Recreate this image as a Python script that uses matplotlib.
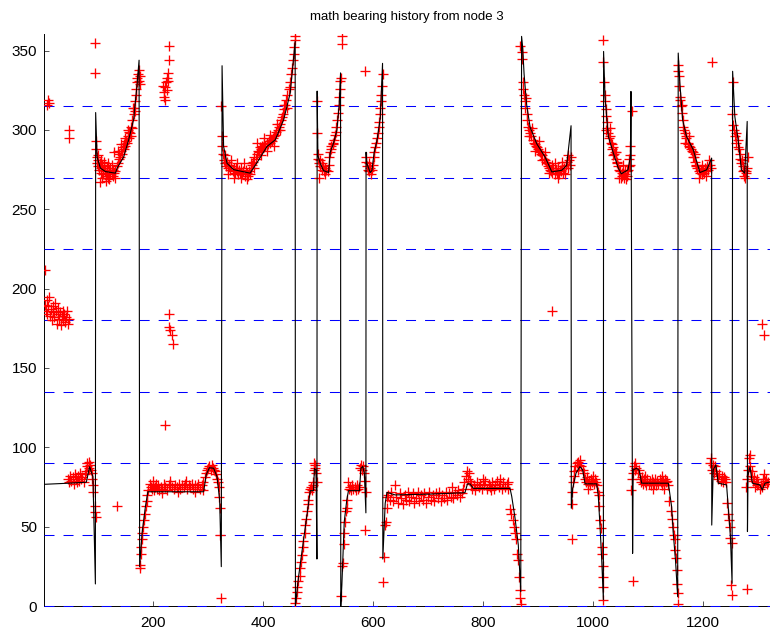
import matplotlib
matplotlib.use("Agg")
import matplotlib.pyplot as plt

# estimated bearing (black line), wraps 0/360 give the vertical jumps
track_x = [2, 40, 78, 84, 90, 94.5,
           95, 97.6, 103.6, 112.7, 131, 134, 146, 155, 164, 170, 174,
           175, 179.4, 185.5, 190, 291.5, 296, 302, 309.7, 315.8, 320.6, 323.6,
           325, 327.8, 334, 346, 376, 391.5, 406.7, 421.8, 437, 449, 458,
           458.5, 464, 473, 480.6, 485.5, 491.5, 493, 496, 497.6,
           498, 499.4, 503.6, 509.7, 518.8, 521.8, 527.9, 534, 538.2, 540.6,
           541, 543, 547.3, 552, 555, 575, 577.6, 581, 584, 586.7,
           587, 588.5, 594.5, 597.6, 601.8, 606.7, 612.7, 617,
           617.5, 621.8, 625, 640, 700, 767, 771.5, 776, 782.4, 849, 852, 858, 864, 868.5,
           870, 872, 874.5, 879, 885.5, 897.6, 912.7, 925, 943, 952, 960,
           960.5, 963, 969, 976, 981, 985.5, 1006.7, 1009.6, 1012.7, 1015.8, 1018.8,
           1019.2, 1021.8, 1027.8, 1037, 1046, 1051.5, 1063.6, 1068, 1069,
           1072, 1073, 1079, 1084, 1088.5, 1137, 1143, 1146, 1150, 1154,
           1155, 1158, 1163, 1170, 1182.4, 1194.5, 1206.7, 1215.8,
           1216, 1218.7, 1223.6, 1227.8, 1243, 1246, 1250, 1253,
           1254, 1258, 1264, 1270, 1276, 1280.5,
           1281, 1282, 1285.5, 1290, 1303.6, 1308, 1312.7, 1320]
track_y = [76.7, 77.3, 78, 87.8, 81.5, 13.9,
           311, 283, 276, 273.8, 272.8, 276, 283, 293.8, 306.4, 327.4, 344,
           24.8, 45.8, 62.6, 72, 72, 82.6, 87.2, 86.8, 81.5, 66.8, 24.8,
           340.5, 289.6, 279, 275, 272.8, 281, 289.6, 293.8, 306.4, 323.3, 355.8,
           0, 18, 41, 60, 72.7, 72.7, 86.7, 85.5, 29.6,
           324.5, 283.7, 279, 274.4, 273.2, 286, 291.8, 300, 316.3, 336,
           0, 13.3, 53, 67, 72.7, 72.7, 86.7, 88, 83.2, 58.7,
           286, 279, 273.2, 274.4, 286, 293, 307, 342,
           29.6, 64.6, 71.6, 70, 70.5, 71.4, 77, 77, 74.1, 74.1, 69.2, 55.6, 38.6, 9,
           359, 352, 335.5, 316.5, 301.8, 291.3, 283, 273.6, 274.6, 277.7, 302.7,
           61.6, 74, 83.7, 87.8, 86, 77, 77, 69.2, 50.2, 29.2, 4,
           349.5, 321, 296, 285.4, 276, 272.4, 274.9, 283.3, 324.3,
           33.2, 85.8, 86.8, 85.5, 77.4, 77.4, 62.6, 45.8, 29, 5.9,
           348.5, 329.6, 306.4, 296, 287.5, 273.2, 274.9, 282.3,
           51, 85.8, 88.9, 77.4, 76.3, 62.6, 43.7, 14.3,
           337, 308.5, 293.8, 274.9, 272.8, 305.4,
           46.9, 82.6, 87.8, 77.4, 76.3, 73.1, 77.4, 78]

# measured bearings (red +), grouped by stretch of the run
meas_start = [(2, 212), (6, 316), (8, 319), (10, 317), (3, 190), (4, 186), (6, 193), (7, 184),
              (9, 189), (11, 195), (12, 183), (14, 187), (15, 180), (17, 189), (18, 185),
              (20, 182), (21, 191), (23, 186), (24, 178), (26, 184), (27, 188), (29, 181),
              (30, 185), (32, 177), (33, 183), (35, 186), (36, 180), (38, 184), (40, 179),
              (41, 182), (43, 186), (45, 178), (47, 181), (47, 300), (47, 295)]
meas_a = [(45, 80), (47, 78), (49, 82), (51, 79), (53, 81), (55, 77), (57, 83), (59, 80),
          (61, 78), (63, 82), (65, 79), (67, 84), (69, 80), (71, 81), (73, 78), (75, 83),
          (77, 85), (79, 88), (80, 90), (82, 87), (83, 91), (85, 89), (86, 86), (88, 84),
          (89, 80), (90, 76), (91, 72), (93, 63), (94, 59), (95, 56),
          (95, 293), (96, 288), (97, 283), (98, 279), (99, 281), (100, 277), (101, 275),
          (102, 279), (104, 276), (105, 273), (106, 278), (108, 275), (109, 272), (110, 277),
          (112, 274), (113, 271), (115, 276), (116, 273), (118, 270), (119, 275), (121, 272),
          (122, 276), (124, 273), (126, 271), (127, 275), (129, 273), (103, 267), (128, 286),
          (131, 274), (133, 277), (135, 279), (137, 282), (138, 285), (140, 283), (141, 287),
          (143, 285), (144, 289), (146, 288), (147, 291), (149, 290), (150, 293), (152, 292),
          (153, 296), (155, 295), (156, 299), (158, 298), (159, 302), (161, 301), (162, 306),
          (164, 310), (165, 314), (166, 318), (168, 322), (169, 326), (170, 330), (171, 333),
          (172, 335), (173, 331), (174, 338), (176, 334), (175, 329), (93, 355), (94, 336),
          (219, 321), (220, 324), (218, 328), (222, 327), (223, 330), (225, 333), (226, 336),
          (224, 325), (228, 353), (228, 344), (221, 319), (227, 331),
          (228, 176), (231, 174), (234, 171), (236, 165), (228, 184), (222, 114), (134, 63)]
meas_b = [(175, 24), (176, 26), (177, 33), (178, 37), (179, 42), (180, 46), (182, 50), (183, 54),
          (185, 58), (186, 63), (188, 66), (189, 70), (191, 73), (193, 77), (195, 75), (197, 74),
          (199, 76), (201, 73), (203, 75), (205, 77), (207, 74), (209, 76), (211, 73), (213, 75),
          (216, 74), (219, 77), (222, 75), (225, 73), (228, 76), (231, 77), (234, 75), (237, 74),
          (240, 76), (243, 75), (246, 77), (249, 74), (252, 76), (255, 75), (258, 77), (261, 74),
          (264, 76), (267, 75), (270, 77), (273, 74), (276, 76), (279, 75), (282, 77), (285, 74),
          (288, 76), (291, 78), (294, 81), (296, 84), (298, 86), (300, 87), (302, 88), (304, 86),
          (306, 89), (308, 87), (310, 86), (312, 85), (314, 83), (316, 80), (318, 78), (319, 75),
          (320, 69), (321, 62), (322, 45), (323, 5),
          (323, 315), (324, 296), (325, 290), (326, 285), (328, 281), (330, 279), (332, 277),
          (334, 280), (336, 276), (338, 278), (340, 275), (342, 277), (344, 274), (346, 276),
          (348, 273), (350, 276), (352, 274), (354, 272), (356, 275), (358, 273), (360, 276),
          (362, 272), (364, 274), (366, 271), (368, 275), (370, 273), (372, 271), (374, 274),
          (376, 272), (378, 276), (380, 278), (382, 280), (384, 283), (386, 282), (388, 285),
          (390, 287), (392, 286), (394, 289), (396, 288), (398, 290), (400, 289), (402, 291),
          (404, 290), (406, 292), (408, 291), (410, 293), (412, 292), (414, 294), (416, 293),
          (418, 295), (420, 296), (422, 297), (424, 299), (426, 300), (428, 302), (430, 304),
          (432, 306), (434, 308), (436, 310), (438, 313), (440, 316), (442, 319), (444, 322),
          (446, 326), (448, 330), (450, 335), (452, 339), (454, 344), (455, 348), (456, 352),
          (457, 357), (458, 359)]
meas_c = [(458, 2), (459, 5), (461, 9), (462, 12), (464, 16), (466, 19), (467, 24), (469, 28),
          (470, 32), (472, 37), (473, 41), (475, 46), (476, 51), (478, 55), (479, 60), (481, 64),
          (482, 67), (484, 72), (485, 74), (487, 75), (488, 73), (490, 76), (491, 78), (492, 86),
          (493, 90), (494, 89), (495, 87), (496, 84), (497, 78),
          (497, 318), (498, 298), (499, 285), (500, 282), (501, 279), (503, 281), (504, 277),
          (506, 279), (507, 275), (509, 277), (510, 274), (512, 276), (513, 272), (515, 275),
          (517, 274), (519, 278), (520, 283), (521, 286), (523, 288), (524, 290), (526, 292),
          (527, 291), (529, 294), (530, 297), (532, 299), (533, 302), (535, 306), (536, 311),
          (537, 316), (538, 321), (539, 326), (540, 331), (541, 333), (543, 359), (543, 354),
          (502, 270),
          (541, 6), (543, 25), (545, 27), (546, 39), (547, 46), (549, 53), (551, 60), (552, 62),
          (553, 67), (555, 78), (556, 74), (558, 75), (560, 73), (562, 76), (564, 74), (566, 75),
          (568, 73), (570, 76), (572, 74), (574, 75), (576, 87), (578, 89), (579, 86), (581, 88),
          (583, 84), (585, 79), (586, 72), (585, 48), (585, 337),
          (586, 283), (587, 280), (589, 277), (590, 275), (592, 279), (593, 274), (595, 276),
          (596, 272), (598, 275), (599, 278), (601, 283), (602, 286), (604, 289), (605, 292),
          (607, 295), (608, 298), (610, 302), (611, 305), (612, 310), (613, 314), (614, 318),
          (615, 322), (616, 328), (617, 335)]
meas_d = [(618, 15), (620, 31), (622, 51), (623, 53), (625, 62), (626, 69),
          (627, 70), (630, 67), (633, 72), (636, 66), (640, 76), (642, 69), (645, 65), (648, 71),
          (651, 68), (654, 64), (657, 70), (660, 67), (663, 72), (666, 66), (669, 69), (672, 71),
          (675, 65), (678, 68), (681, 72), (684, 66), (687, 70), (690, 67), (693, 71), (696, 65),
          (699, 69), (702, 72), (705, 67), (708, 70), (711, 66), (714, 71), (717, 68), (720, 72),
          (723, 66), (726, 70), (729, 68), (732, 72), (735, 67), (738, 71), (741, 69), (743, 75),
          (746, 68), (749, 72), (752, 70), (755, 73), (758, 69), (761, 71), (764, 74), (766, 78),
          (768, 82), (770, 85), (772, 80), (774, 84), (776, 79), (778, 77), (780, 74), (783, 76),
          (786, 73), (789, 78), (792, 75), (795, 77), (798, 74), (801, 76), (804, 79), (807, 74),
          (810, 77), (813, 75), (816, 78), (819, 74), (822, 76), (825, 79), (828, 75), (831, 77),
          (834, 74), (837, 78), (840, 75), (843, 77), (846, 74), (849, 61), (851, 58), (854, 54),
          (856, 50), (858, 46), (860, 42), (862, 33), (864, 29), (866, 18), (867, 10), (868, 5),
          (869, 1)]
meas_e = [(868, 353), (870, 349), (871, 345), (872, 330), (873, 326), (874, 322), (876, 318),
          (877, 314), (879, 310), (880, 306), (882, 302), (884, 300), (886, 298), (888, 296),
          (890, 294), (892, 292), (894, 291), (896, 290), (898, 289), (900, 288), (902, 287),
          (904, 286), (906, 285), (908, 284), (910, 282), (912, 281), (914, 280), (916, 279),
          (918, 277), (920, 276), (922, 275), (924, 274), (926, 273), (928, 276), (930, 272),
          (932, 275), (934, 273), (936, 276), (938, 272), (940, 275), (942, 274), (944, 277),
          (946, 273), (948, 276), (950, 278), (952, 280), (954, 276), (956, 281), (958, 278),
          (960, 283), (926, 186),
          (961, 64), (962, 72), (963, 78), (965, 82), (966, 85), (968, 88), (970, 90), (972, 86),
          (973, 91), (975, 89), (977, 92), (979, 88), (981, 86), (983, 84), (985, 80), (987, 78),
          (989, 81), (991, 77), (993, 79), (995, 76), (997, 80), (999, 78), (1001, 77), (1003, 80),
          (1005, 78), (1007, 76), (1009, 72), (1010, 70), (1011, 63), (1013, 54), (1014, 49),
          (1016, 37), (1017, 33), (1018, 25), (1018, 18), (1019, 12), (1019, 4), (961, 42)]
meas_f = [(1019, 357), (1019, 343), (1020, 330), (1021, 322), (1022, 318), (1023, 313),
          (1024, 309), (1025, 305), (1026, 301), (1028, 298), (1029, 295), (1031, 296),
          (1032, 292), (1034, 291), (1035, 288), (1037, 289), (1038, 285), (1040, 286),
          (1041, 282), (1043, 280), (1044, 279), (1046, 277), (1047, 275), (1049, 274),
          (1050, 270), (1052, 273), (1053, 271), (1055, 273), (1056, 270), (1058, 274),
          (1059, 272), (1061, 274), (1062, 271), (1064, 275), (1065, 277), (1067, 278),
          (1068, 284), (1068, 290), (1071, 312),
          (1069, 73), (1071, 80), (1072, 84), (1074, 88), (1076, 86), (1077, 90), (1079, 87),
          (1081, 84), (1083, 86), (1085, 80), (1087, 78), (1089, 81), (1091, 77), (1093, 80),
          (1095, 78), (1097, 76), (1099, 80), (1101, 77), (1103, 79), (1105, 76), (1107, 80),
          (1109, 78), (1111, 77), (1113, 80), (1115, 76), (1117, 79), (1119, 77), (1121, 80),
          (1123, 78), (1125, 76), (1127, 79), (1129, 77), (1131, 80), (1133, 78), (1135, 79),
          (1137, 76), (1139, 66), (1141, 60), (1143, 55), (1145, 50), (1147, 45), (1149, 42),
          (1150, 35), (1151, 30), (1152, 23), (1153, 14), (1155, 8), (1155, 1), (1073, 16)]
meas_g = [(1154, 341), (1155, 337), (1156, 334), (1157, 328), (1158, 321), (1159, 319),
          (1160, 315), (1161, 311), (1163, 306), (1164, 302), (1166, 300), (1167, 298),
          (1169, 296), (1170, 295), (1172, 292), (1173, 291), (1175, 290), (1176, 289),
          (1178, 288), (1180, 287), (1182, 286), (1183, 283), (1185, 280), (1187, 278),
          (1188, 277), (1190, 276), (1192, 274), (1194, 273), (1196, 275), (1198, 272),
          (1200, 274), (1202, 273), (1204, 276), (1206, 274), (1208, 277), (1210, 275),
          (1212, 278), (1214, 276), (1216, 343),
          (1213, 90), (1215, 93), (1217, 86), (1219, 89), (1220, 84), (1222, 88), (1224, 85),
          (1226, 82), (1228, 80), (1230, 83), (1232, 79), (1234, 82), (1236, 78), (1238, 81),
          (1240, 80), (1242, 78), (1244, 65), (1246, 58), (1248, 54), (1249, 50), (1250, 43),
          (1252, 40), (1251, 13), (1252, 7), (1281, 11),
          (1254, 330), (1252, 310), (1255, 303), (1257, 300), (1258, 296), (1260, 298),
          (1261, 292), (1263, 294), (1264, 289), (1266, 288), (1267, 285), (1268, 282),
          (1270, 279), (1271, 281), (1272, 277), (1273, 274), (1274, 271), (1275, 275),
          (1276, 270), (1278, 274), (1279, 273), (1280, 276), (1282, 283),
          (1279, 75), (1281, 80), (1282, 86), (1284, 93), (1286, 95), (1286, 88), (1288, 82),
          (1289, 85), (1291, 79), (1293, 81), (1294, 75), (1296, 78), (1298, 76), (1299, 80),
          (1301, 77), (1303, 74), (1305, 76), (1307, 75), (1309, 80), (1311, 83), (1313, 79),
          (1315, 80), (1317, 77), (1319, 78), (1308, 178), (1311, 171)]
# outer edges of the thick bands
meas_edge = [(100, 284), (104, 281), (107, 270), (111, 280), (114, 268), (117, 279), (120, 269),
             (125, 278), (130, 270), (136, 287), (142, 291), (148, 295), (154, 300), (160, 296),
             (163, 314), (167, 312),
             (330, 284), (335, 272), (341, 281), (347, 270), (353, 279), (359, 270), (365, 279),
             (371, 269), (377, 279), (383, 276), (389, 292), (395, 284), (401, 295), (407, 287),
             (413, 297), (419, 290), (425, 304), (431, 300), (437, 316), (443, 314), (449, 327),
             (878, 320), (883, 296), (889, 301), (895, 287), (901, 293), (907, 281), (913, 286),
             (919, 273), (925, 278), (931, 279), (937, 270), (943, 280), (949, 272), (955, 284),
             (1024, 300), (1030, 301), (1036, 284), (1042, 286), (1048, 270), (1054, 278),
             (1060, 269), (1066, 282),
             (1162, 316), (1168, 292), (1174, 296), (1181, 283), (1186, 285), (1193, 270),
             (1199, 278), (1205, 271), (1211, 281),
             (200, 79), (215, 71), (230, 79), (245, 72), (260, 79), (275, 72), (290, 73),
             (800, 80), (815, 73), (830, 80), (845, 78), (990, 74), (1000, 82),
             (1095, 82), (1110, 74), (1125, 82), (1130, 74)]

ref_angles = [0, 45, 90, 135, 180, 225, 270, 315]
y_ticks = [0, 50, 100, 150, 200, 250, 300, 350]
x_ticks = [200, 400, 600, 800, 1000, 1200]

plt.rcParams['font.family'] = ['Liberation Sans', 'DejaVu Sans']
plt.rcParams['lines.scale_dashes'] = False

fig = plt.figure(figsize=(7.7, 6.31), dpi=100)
ax = fig.add_axes([44 / 770, 25 / 631, 726 / 770, 572 / 631])

for a in ref_angles:
    ax.axhline(a, color='b', lw=0.75, dashes=(7.2, 6.5), zorder=2.6, clip_on=False)

meas = (meas_start + meas_a + meas_b + meas_c + meas_d + meas_e + meas_f + meas_g
        + meas_edge)
mx = [p[0] for p in meas]
my = [p[1] for p in meas]
ax.plot(mx, my, '+', color='red', ms=6.8, mew=0.95, zorder=2.7)
ax.plot(track_x, track_y, '-', color='black', lw=0.8, zorder=2.8)

ax.set_xlim(1, 1322)
ax.set_ylim(0, 360.5)
ax.set_xticks(x_ticks)
ax.set_yticks(y_ticks)
ax.tick_params(direction='in', length=3.5, width=0.7, color='#555555', labelsize=11, pad=5)
ax.tick_params(axis='x', pad=7)
ax.spines['top'].set_visible(False)
ax.spines['right'].set_visible(False)
for s in ['left', 'bottom']:
    ax.spines[s].set_linewidth(0.7)
ax.set_title("math bearing history from node 3", fontsize=9.5, pad=10)

fig.savefig("out.png", dpi=100)
